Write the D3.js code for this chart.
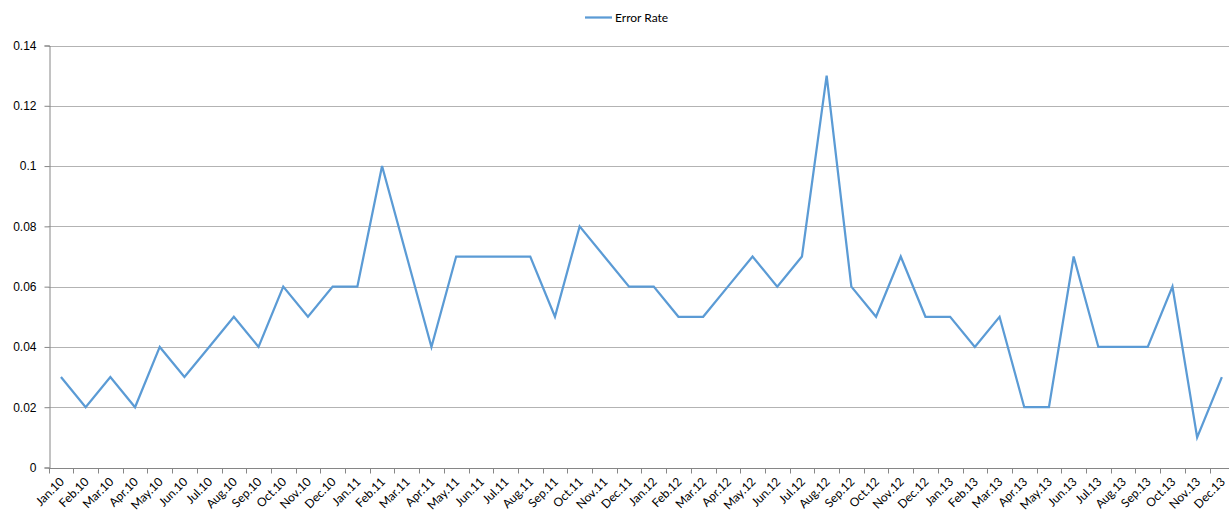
<!DOCTYPE html>
<html>
<head>
<meta charset="utf-8">
<script src="https://cdn.jsdelivr.net/npm/d3@7"></script>
<style>
  body { margin: 0; background: #fff; overflow: hidden; }
  svg { display: block; font-family: Lato, "Open Sans", sans-serif; }
</style>
</head>
<body>
<svg id="chart" width="1229" height="513"></svg>
<script>
// Monthly categories, Jan 2010 to Dec 2013
const months = ["Jan","Feb","Mar","Apr","May","Jun","Jul","Aug","Sep","Oct","Nov","Dec"];
const years = ["10","11","12","13"];
const categories = years.flatMap(y => months.map(m => m + "." + y));

// Error rate per month
const errorRate = [
  0.03, 0.02, 0.03, 0.02, 0.04, 0.03, 0.04, 0.05, 0.04, 0.06, 0.05, 0.06,
  0.06, 0.10, 0.07, 0.04, 0.07, 0.07, 0.07, 0.07, 0.05, 0.08, 0.07, 0.06,
  0.06, 0.05, 0.05, 0.06, 0.07, 0.06, 0.07, 0.13, 0.06, 0.05, 0.07, 0.05,
  0.05, 0.04, 0.05, 0.02, 0.02, 0.07, 0.04, 0.04, 0.04, 0.06, 0.01, 0.03
];

const yTicks = [0, 0.02, 0.04, 0.06, 0.08, 0.1, 0.12, 0.14];
const seriesName = "Error Rate";

const svg = d3.select("#chart");
const W = 1229, H = 513;
// plot area runs slightly past the right edge of the canvas
const margin = { left: 48.6, top: 45.5, bottom: 45.5 };
const plotRight = 1234.2;

const x = d3.scaleBand().domain(categories).range([margin.left, plotRight]);
const y = d3.scaleLinear().domain([0, 0.14]).range([H - margin.bottom, margin.top]);

const color = "#5B9BD5";

// horizontal gridlines
svg.append("g")
  .selectAll("line")
  .data(yTicks.filter(d => d > 0))
  .join("line")
  .attr("x1", margin.left).attr("x2", W)
  .attr("y1", d => Math.round(y(d)) + 0.5).attr("y2", d => Math.round(y(d)) + 0.5)
  .attr("stroke", "#b3b3b3").attr("stroke-width", 1);

// y axis
const yAxis = svg.append("g")
  .attr("transform", `translate(${Math.round(margin.left) + 0.5},0)`)
  .call(d3.axisLeft(y).tickValues(yTicks).tickSize(5).tickPadding(8).tickFormat(d => String(+d.toFixed(2))));
yAxis.select(".domain").attr("stroke", "#868686");
yAxis.selectAll(".tick line").attr("stroke", "#868686");
yAxis.selectAll(".tick text").attr("fill", "#000").style("font-size", "12px");

// x axis with tick marks between categories
const xAxisG = svg.append("g").attr("transform", `translate(0,${Math.round(y(0)) + 0.5})`);
xAxisG.append("line")
  .attr("x1", margin.left).attr("x2", W).attr("stroke", "#868686");
const boundaries = categories.map(c => x(c)).concat([x.range()[1]]);
xAxisG.selectAll("line.tk")
  .data(boundaries)
  .join("line").attr("class", "tk")
  .attr("x1", d => Math.round(d) + 0.5).attr("x2", d => Math.round(d) + 0.5)
  .attr("y1", 0).attr("y2", 5)
  .attr("stroke", "#868686");
xAxisG.selectAll("text")
  .data(categories)
  .join("text")
  .attr("transform", d => `translate(${x(d) + x.bandwidth() / 2 + 1},${11}) rotate(-45)`)
  .attr("text-anchor", "end")
  .attr("dy", "0.35em")
  .style("font-size", "12px")
  .attr("fill", "#000")
  .text(d => d);

// data line
const line = d3.line()
  .x((d, i) => x(categories[i]) + x.bandwidth() / 2)
  .y(d => y(d));
svg.append("path")
  .datum(errorRate)
  .attr("d", line)
  .attr("fill", "none")
  .attr("stroke", color)
  .attr("stroke-width", 2.25)
  .attr("stroke-linejoin", "miter");

// legend
const lg = svg.append("g").attr("transform", "translate(585,17.5)");
lg.append("line").attr("x1", 0).attr("x2", 27).attr("stroke", color).attr("stroke-width", 2.25);
lg.append("text").attr("x", 30).attr("dy", "0.35em").style("font-size", "12px").attr("fill", "#000").text(seriesName);
</script>
</body>
</html>
